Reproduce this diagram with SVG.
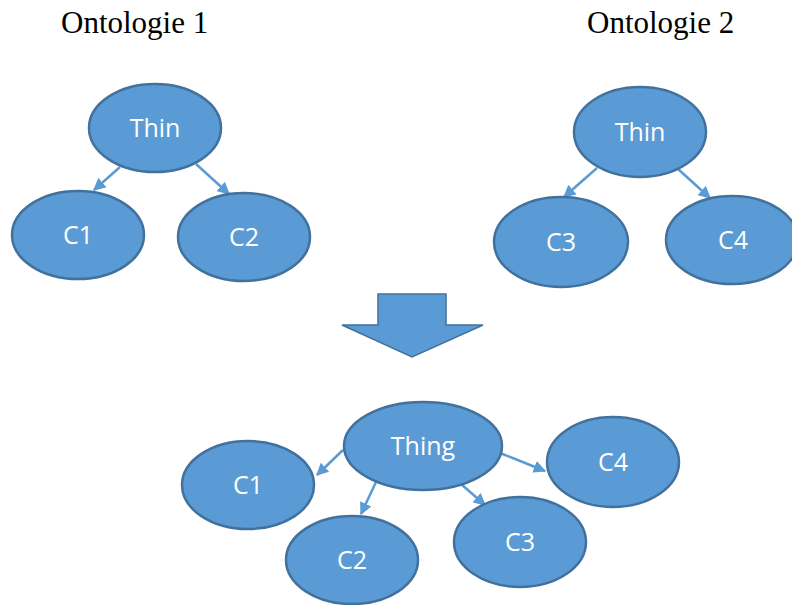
<svg xmlns="http://www.w3.org/2000/svg" width="792" height="605" viewBox="0 0 792 605">
<style>
.n ellipse{fill:#5B9BD5;stroke:#41719C;stroke-width:2.5}
.n text{fill:#FFFFFF;font-family:"Open Sans","Liberation Sans",sans-serif;font-size:25px;text-anchor:middle}
.t{fill:#000;font-family:"Liberation Serif","Times New Roman",serif;font-size:31px}
#edges line{stroke:#5B9BD5;stroke-width:2.5;marker-end:url(#ah)}
</style>
<defs>
<marker id="ah" viewBox="0 0 10 10" refX="9" refY="5" markerWidth="5" markerHeight="5" orient="auto" markerUnits="strokeWidth">
<path d="M0,0 L10,5 L0,10 z" fill="#5B9BD5"/>
</marker>
</defs>
<rect width="792" height="605" fill="#FFFFFF"/>
<text class="t" x="61" y="33">Ontologie 1</text>
<text class="t" x="587" y="33">Ontologie 2</text>
<g id="edges">
<line x1="120" y1="167" x2="94" y2="190"/>
<line x1="196" y1="164" x2="229" y2="194"/>
<line x1="597" y1="168" x2="564" y2="197"/>
<line x1="678" y1="169" x2="710" y2="198"/>
<line x1="343" y1="450" x2="317" y2="475"/>
<line x1="376" y1="482" x2="361" y2="514"/>
<line x1="461" y1="484" x2="485" y2="505"/>
<line x1="500" y1="453" x2="545" y2="471"/>
</g>
<g id="merge-arrow">
<path d="M378,294 L446,294 L446,325 L483,325 L412,357 L342,325 L378,325 Z" fill="#5B9BD5" stroke="#41719C" stroke-width="1.5"/>
</g>
<g id="o1-thin" class="n"><ellipse cx="155" cy="128" rx="66" ry="44"/><text x="155" y="137">Thin</text></g>
<g id="o1-c1" class="n"><ellipse cx="78" cy="235" rx="66" ry="44"/><text x="78" y="244">C1</text></g>
<g id="o1-c2" class="n"><ellipse cx="244" cy="237" rx="66" ry="44"/><text x="244" y="246">C2</text></g>
<g id="o2-thin" class="n"><ellipse cx="640" cy="132" rx="66" ry="45"/><text x="640" y="141">Thin</text></g>
<g id="o2-c3" class="n"><ellipse cx="561" cy="242" rx="67" ry="45"/><text x="561" y="251">C3</text></g>
<g id="o2-c4" class="n"><ellipse cx="732" cy="240" rx="66" ry="44"/><text x="733" y="249">C4</text></g>
<g id="m-thing" class="n"><ellipse cx="423" cy="446" rx="79" ry="44"/><text x="423" y="455">Thing</text></g>
<g id="m-c1" class="n"><ellipse cx="248" cy="485" rx="66" ry="44"/><text x="248" y="494">C1</text></g>
<g id="m-c2" class="n"><ellipse cx="352" cy="560" rx="66" ry="44"/><text x="352" y="569">C2</text></g>
<g id="m-c3" class="n"><ellipse cx="520" cy="542" rx="66" ry="45"/><text x="520" y="551">C3</text></g>
<g id="m-c4" class="n"><ellipse cx="613" cy="462" rx="66" ry="45"/><text x="613" y="471">C4</text></g>
</svg>
